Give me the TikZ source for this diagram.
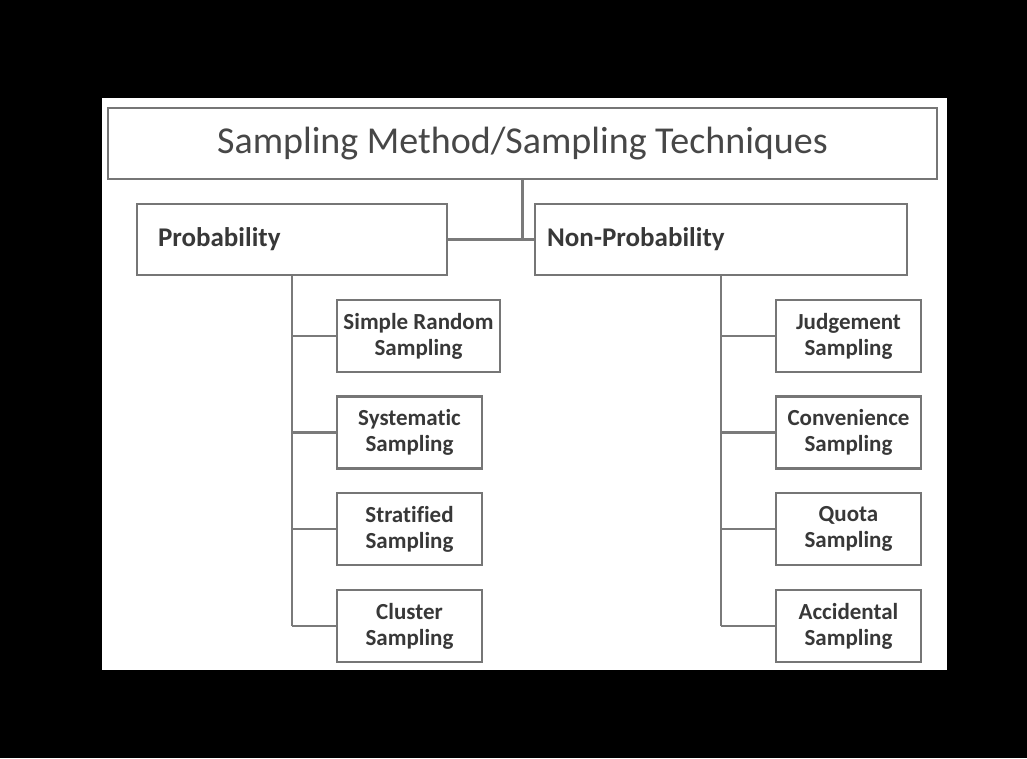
\documentclass[tikz,border=0pt]{standalone}
\usepackage{fontspec}
\setmainfont{Carlito}[Ligatures={NoCommon}]
\begin{document}
\begin{tikzpicture}[x=1pt,y=-1pt,
  box/.style={draw=boxgray, line width=2.6pt, fill=white, inner sep=0pt, text=txtgray},
  child/.style={box, minimum height=72pt, align=center, font=\fontsize{23}{26}\selectfont\bfseries},
  head/.style={box, minimum height=71pt, align=left, font=\fontsize{27}{30}\selectfont\bfseries},
  link/.style={draw=linegray, line width=2.6pt}]
\definecolor{boxgray}{HTML}{767676}
\definecolor{linegray}{HTML}{7A7A7A}
\definecolor{txtgray}{HTML}{383838}
\definecolor{titlegray}{HTML}{474747}
\fill[black] (0,0) rectangle (1027,758);
\fill[white] (102,98) rectangle (947,670);
\useasboundingbox (0,0) rectangle (1027,758);

\node[box, minimum width=829pt, minimum height=71pt, text=titlegray, font=\fontsize{38}{42}\selectfont] (title) at (522.5,143.5) {Sampling Method/Sampling Techniques};

\node[head, text width=268pt, inner xsep=21pt] (prob) at (292,239.5) {Probability};
\node[head, text width=348pt, inner xsep=12pt] (nonprob) at (721,239.5) {Non-Probability};

\node[child, minimum width=163pt] (c1) at (418.5,336) {Simple Random\\Sampling};
\node[child, minimum width=145pt] (c2) at (409.5,432.5) {Systematic\\Sampling};
\node[child, minimum width=145pt] (c3) at (409.5,529) {Stratified\\Sampling};
\node[child, minimum width=145pt] (c4) at (409.5,626) {Cluster\\Sampling};

\node[child, minimum width=145pt] (n1) at (848.5,336) {Judgement\\Sampling};
\node[child, minimum width=145pt] (n2) at (848.5,432.5) {Convenience\\Sampling};
\node[child, minimum width=145pt] (n3) at (848.5,529) {Quota\\Sampling};
\node[child, minimum width=145pt] (n4) at (848.5,626) {Accidental\\Sampling};

\coordinate (j) at (title.south |- prob.east);
\draw[link] (title.south) -- (j);
\draw[link] (prob.east) -- (nonprob.west);

\draw[link] (prob.south) -- (prob.south |- c4.west);
\foreach \c in {c1,c2,c3,c4} \draw[link] (prob.south |- \c.west) -- (\c.west);
\draw[link] (nonprob.south) -- (nonprob.south |- n4.west);
\foreach \c in {n1,n2,n3,n4} \draw[link] (nonprob.south |- \c.west) -- (\c.west);
\end{tikzpicture}
\end{document}
